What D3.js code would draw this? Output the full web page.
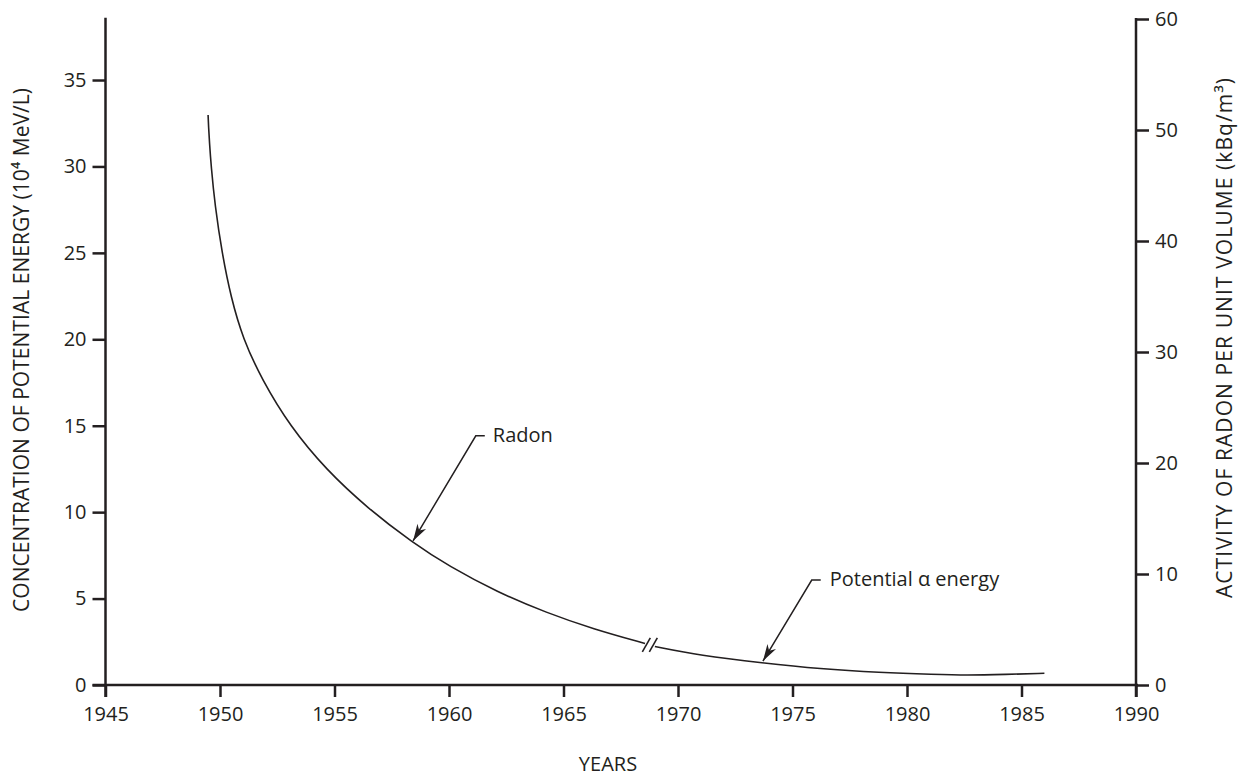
<!DOCTYPE html>
<html><head><meta charset="utf-8">
<script src="https://cdn.jsdelivr.net/npm/d3@7"></script>
<style>
html,body{margin:0;padding:0;background:#fff;}
text{font-family:"Open Sans","Noto Sans",sans-serif;fill:#231f20;}
</style></head>
<body><svg id="c" width="1242" height="778"></svg>
<script>
// ---- data ----
const xTicks = [1945,1950,1955,1960,1965,1970,1975,1980,1985,1990];
const leftTicks = [0,5,10,15,20,25,30,35];
const rightTicks = [0,10,20,30,40,50,60];
// Radon activity (kBq/m3), right axis
const radonYears  = [1949.48,1949.50,1949.54,1949.61,1949.78,1950.09,1950.48,1951.00,1951.83,1953.06,1954.63,1956.46,1958.43,1960.00,1962.10,1964.28,1966.29,1968.56];
const radonValues = [51.35,50.3,48.9,46.8,43.2,38.9,34.9,31.2,27.5,23.3,19.4,15.9,12.8,10.7,8.38,6.49,5.05,3.74];
// Potential alpha energy concentration (10^4 MeV/L), left axis
const alphaYears  = [1968.99,1970.96,1973.71,1976.20,1978.80,1981.20,1982.60,1984.30,1986.00];
const alphaValues = [2.23,1.71,1.27,0.93,0.72,0.61,0.56,0.61,0.68];
const breakYear = 1968.77;
const radonLabel = "Radon", alphaLabel = "Potential \u03b1 energy";
const xTitle = "YEARS";
const leftTitle = "CONCENTRATION OF POTENTIAL ENERGY (10\u2074 MeV/L)";
const rightTitle = "ACTIVITY OF RADON PER UNIT VOLUME (kBq/m\u00b3)";

// ---- layout ----
const svg = d3.select("#c");
const x = d3.scaleLinear().domain([1945,1990]).range([105.5,1136]);
const yL = d3.scaleLinear().domain([0,38.53]).range([685,19]);
const yR = d3.scaleLinear().domain([0,60]).range([685,19]);
const ink = "#231f20";
const fs = 20;

// axes
const axB = svg.append("g").attr("transform","translate(0,685)")
  .call(d3.axisBottom(x).tickValues(xTicks).tickFormat(d3.format("d")).tickSize(12).tickPadding(10));
const axL = svg.append("g").attr("transform","translate(105.5,0)")
  .call(d3.axisLeft(yL).tickValues(leftTicks).tickSize(13).tickPadding(6));
const axR = svg.append("g").attr("transform","translate(1136,0)")
  .call(d3.axisRight(yR).tickValues(rightTicks).tickSize(13).tickPadding(6));
[axB,axL,axR].forEach(a=>{
  a.select(".domain").remove();
  a.selectAll("line").attr("stroke",ink).attr("stroke-width",2.5);
  a.selectAll("text").attr("font-size",fs).attr("fill",ink).style("font-family","'Open Sans',sans-serif");
});
// axis lines
svg.append("line").attr("x1",x(1945)-13).attr("x2",x(1990)+2).attr("y1",685).attr("y2",685).attr("stroke",ink).attr("stroke-width",2.5);
svg.append("line").attr("x1",105.5).attr("x2",105.5).attr("y1",yL(38.6)).attr("y2",697).attr("stroke",ink).attr("stroke-width",2.5);
svg.append("line").attr("x1",1136).attr("x2",1136).attr("y1",yR(60)-1).attr("y2",697).attr("stroke",ink).attr("stroke-width",2.5);

// curves
const lineR = d3.line().x((d,i)=>x(radonYears[i])).y(d=>yR(d)).curve(d3.curveBasis);
const lineA = d3.line().x((d,i)=>x(alphaYears[i])).y(d=>yL(d)).curve(d3.curveBasis);
svg.append("path").attr("d",lineR(radonValues)).attr("fill","none").attr("stroke",ink).attr("stroke-width",1.6);
svg.append("path").attr("d",lineA(alphaValues)).attr("fill","none").attr("stroke",ink).attr("stroke-width",1.6);

// break marks
const bx = x(breakYear), by = (yR(radonValues[radonValues.length-1])+yL(alphaValues[0]))/2;
[-3.5,3.5].forEach(o=>{
  svg.append("line").attr("x1",bx+o-4).attr("y1",by+7).attr("x2",bx+o+4).attr("y2",by-7)
    .attr("stroke",ink).attr("stroke-width",1.6);
});

// annotations
function arrow(x0,y0,x1,y1){
  svg.append("polyline").attr("points",[[x0+9,y0],[x0,y0],[x1,y1]].map(p=>p.join(",")).join(" "))
    .attr("fill","none").attr("stroke",ink).attr("stroke-width",1.5);
  const ang = Math.atan2(y1-y0,x1-x0), L=17, W=5, N=12;
  const ux=Math.cos(ang), uy=Math.sin(ang), px=-uy, py=ux;
  const pts=[[x1,y1],[x1-ux*L+px*W,y1-uy*L+py*W],[x1-ux*N,y1-uy*N],[x1-ux*L-px*W,y1-uy*L-py*W]];
  svg.append("polygon").attr("points",pts.map(p=>p.join(",")).join(" ")).attr("fill",ink);
}
// Radon
{
  const tx = x(radonYears[12]), ty = yR(radonValues[12]) - 2;
  const ex = x(1961.17), ey = yL(14.42);
  arrow(ex,ey,tx,ty);
  svg.append("text").attr("x",ex+17).attr("y",ey+6).attr("font-size",fs).text(radonLabel);
}
// Potential alpha energy
{
  const tx = x(alphaYears[2]), ty = yL(alphaValues[2]) - 2;
  const ex = x(1975.84), ey = yL(6.07);
  arrow(ex,ey,tx,ty);
  svg.append("text").attr("x",ex+18).attr("y",ey+6).attr("font-size",fs).text(alphaLabel);
}

// titles
svg.append("text").attr("x",608).attr("y",771).attr("text-anchor","middle").attr("font-size",fs).text(xTitle);
svg.append("text").attr("transform","translate(29,350) rotate(-90)").attr("text-anchor","middle").attr("font-size",21)
  .attr("textLength",524).attr("lengthAdjust","spacing").text(leftTitle);
svg.append("text").attr("transform","translate(1232,338) rotate(-90)").attr("text-anchor","middle").attr("font-size",21)
  .attr("textLength",520).attr("lengthAdjust","spacing").text(rightTitle);
</script></body></html>
